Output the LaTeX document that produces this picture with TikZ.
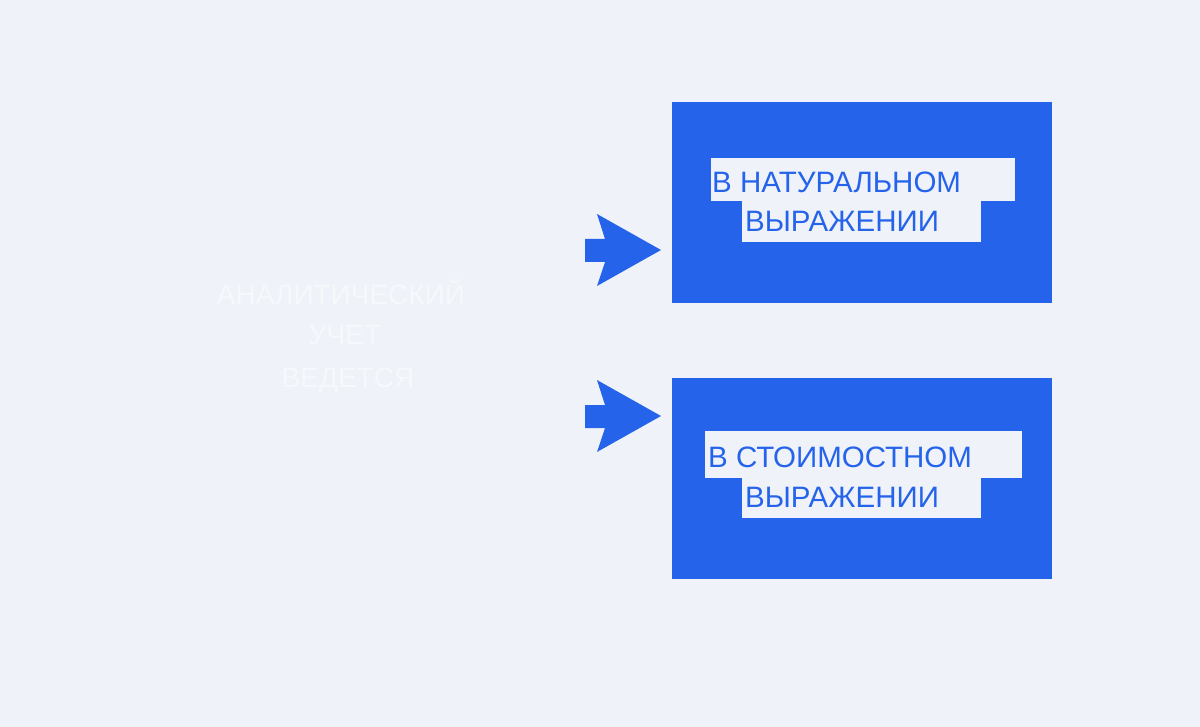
\documentclass[tikz,border=0pt]{standalone}
\usepackage{fontspec}
\setmainfont{Liberation Sans}
\definecolor{bg}{HTML}{EFF3F9}
\definecolor{blu}{HTML}{2563EB}
\tikzset{
  box/.style={fill=blu, draw=none},
  hl/.style={fill=bg, draw=none},
  lbl/.style={text=blu, inner sep=0pt, anchor=base west, font=\fontsize{29.5}{30}\selectfont},
  ghost/.style={text=bg!55!white, inner sep=0pt, anchor=base, font=\fontsize{28}{30}\selectfont},
  arr/.style={fill=blu, draw=none}
}
\begin{document}
\begin{tikzpicture}[x=1pt,y=-1pt]
\fill[bg] (0,0) rectangle (1200,727);
\useasboundingbox (0,0) rectangle (1200,727);
% left faint text
\node[ghost] (t1) at (341,305) {АНАЛИТИЧЕСКИЙ};
\node[ghost] (t2) at (345,345) {УЧЕТ};
\node[ghost] (t3) at (348,388) {ВЕДЕТСЯ};
% boxes
\fill[box] (672,102) rectangle (1052,303);
\coordinate (b1) at (672,250);
\fill[box] (672,378) rectangle (1052,579);
\coordinate (b2) at (672,416);
% highlights
\fill[hl] (711,158) rectangle (1015,201);
\fill[hl] (742,201) rectangle (981,242);
\fill[hl] (705,431) rectangle (1022,478);
\fill[hl] (742,478) rectangle (981,518);
% labels
\node[lbl] (l1) at (712,193) {В НАТУРАЛЬНОМ};
\node[lbl] (l2) at (745,232) {ВЫРАЖЕНИИ};
\node[lbl] (l3) at (708,467) {В СТОИМОСТНОМ};
\node[lbl] (l4) at (745,507) {ВЫРАЖЕНИИ};
% arrows
\fill[arr] (585,239) -- (605,239) -- (597,214) -- (661,250) -- (597,286) -- (605,262) -- (585,262) -- cycle;
\fill[arr] (585,405) -- (605,405) -- (597,380) -- (661,416) -- (597,452) -- (605,428) -- (585,428) -- cycle;
\end{tikzpicture}
\end{document}
